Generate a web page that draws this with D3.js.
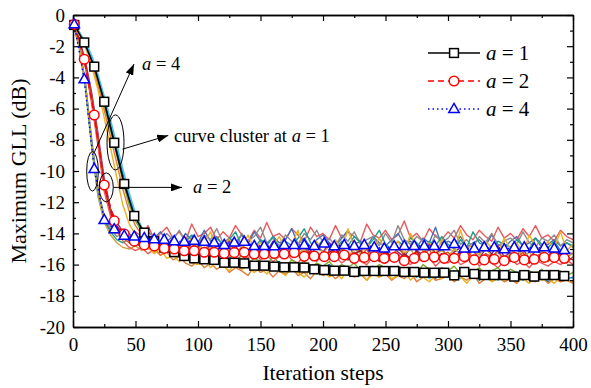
<!DOCTYPE html>
<html>
<head>
<meta charset="utf-8">
<script src="https://cdn.jsdelivr.net/npm/d3@7"></script>
<style>
  body { margin: 0; background: #fff; }
  svg { display: block; }
  svg text { font-family: "Liberation Serif", "Times New Roman", Times, serif; }
</style>
</head>
<body>
<script>
// Data
const steps = d3.range(0, 401, 5);
const markerSteps = d3.range(1, 400, 8);

const meanA1 = [-0.64, -1.76, -3.31, -5.56, -8.19, -10.83, -12.88, -13.95, -14.5, -14.9,
  -15.2, -15.45, -15.6, -15.66, -15.7, -15.88, -15.88, -15.92, -16.07, -16.07,
  -16.13, -16.17, -16.17, -16.19, -16.3, -16.35, -16.39, -16.39, -16.47, -16.41,
  -16.41, -16.41, -16.41, -16.47, -16.47, -16.52, -16.52, -16.52, -16.69, -16.47,
  -16.6, -16.67, -16.67, -16.67, -16.77, -16.67, -16.77, -16.67, -16.67, -16.73];
const meanA2 = [-0.6, -2.84, -6.41, -10.9, -13.2, -14.04, -14.5, -14.74, -14.8, -14.96,
  -15.0, -15.11, -15.11, -15.21, -15.21, -15.28, -15.23, -15.21, -15.32, -15.32,
  -15.28, -15.32, -15.23, -15.47, -15.45, -15.49, -15.49, -15.38, -15.6, -15.54,
  -15.49, -15.6, -15.54, -15.75, -15.6, -15.49, -15.52, -15.6, -15.6, -15.49,
  -15.7, -15.7, -15.66, -15.75, -15.54, -15.7, -15.66, -15.54, -15.54, -15.6];
const meanA4 = [-0.6, -4.12, -9.87, -13.14, -13.74, -14.15, -14.2, -14.3, -14.37, -14.4,
  -14.5, -14.53, -14.47, -14.53, -14.59, -14.74, -14.59, -14.53, -14.81, -14.81,
  -14.83, -14.74, -14.74, -14.74, -14.81, -14.64, -14.83, -14.74, -14.81, -14.74,
  -14.89, -14.96, -14.83, -14.81, -14.81, -14.81, -14.81, -14.83, -14.68, -14.96,
  -14.96, -14.89, -14.89, -15.02, -14.89, -14.89, -14.96, -14.89, -14.96, -15.06];

// single runs (cluster), one value every 5 steps
const runA1a = [-0.5,-1.1,-1.8,-2.8,-4.0,-5.4,-7.0,-8.6,-10.2,-11.7,
  -12.9,-13.8,-14.3,-14.5,-15.0,-14.9,-15.4,-15.2,-15.6,-15.3,
  -15.7,-15.5,-15.9,-15.6,-15.8,-16.1,-15.7,-16.0,-15.8,-16.2,
  -15.9,-16.3,-16.0,-15.8,-16.2,-16.4,-16.0,-16.3,-16.1,-16.5,
  -16.2,-16.0,-16.4,-16.6,-16.2,-16.3,-16.7,-16.4,-16.1,-16.5,
  -16.3,-16.7,-16.5,-16.2,-16.6,-16.8,-16.4,-16.5,-16.9,-16.3,
  -16.6,-16.4,-16.8,-16.5,-16.7,-17.0,-16.5,-16.6,-16.9,-16.7,
  -16.5,-16.8,-17.0,-16.6,-16.9,-16.7,-17.1,-16.8,-16.6,-16.9,
  -16.8];
const runA1b = [-0.5,-1.3,-2.1,-3.3,-4.8,-6.6,-8.5,-10.4,-12.2,-13.4,
  -14.1,-14.6,-14.9,-15.3,-15.0,-15.6,-15.4,-15.8,-15.5,-15.9,
  -16.0,-15.6,-16.2,-15.8,-16.1,-16.4,-15.9,-16.3,-16.1,-16.5,
  -16.2,-16.6,-16.1,-16.4,-16.7,-16.2,-16.5,-16.8,-16.3,-16.6,
  -16.4,-16.8,-16.5,-16.9,-16.3,-16.7,-16.5,-17.0,-16.6,-16.8,
  -16.5,-16.9,-16.7,-16.4,-17.0,-16.6,-16.8,-17.1,-16.7,-16.9,
  -16.6,-17.0,-16.8,-17.2,-16.7,-16.9,-16.6,-17.1,-16.9,-17.0,
  -16.7,-17.1,-16.9,-17.2,-16.8,-17.0,-16.9,-17.2,-16.8,-17.0,
  -17.1];
const runA1c = [-0.5,-1.2,-1.9,-3.0,-4.3,-5.8,-7.4,-9.0,-10.7,-12.2,
  -13.2,-13.9,-14.4,-14.3,-14.8,-15.1,-14.9,-15.3,-15.1,-15.5,
  -15.2,-15.6,-15.4,-15.1,-15.7,-15.5,-15.8,-15.4,-15.9,-15.6,
  -15.8,-16.0,-15.5,-15.9,-16.1,-15.7,-16.0,-15.8,-16.2,-15.9,
  -16.1,-15.8,-16.3,-16.0,-16.2,-15.9,-16.4,-16.1,-16.3,-16.0,
  -16.2,-16.5,-16.1,-16.4,-16.2,-16.6,-16.0,-16.3,-16.5,-16.2,
  -16.4,-16.1,-16.6,-16.3,-16.5,-16.2,-16.7,-16.4,-16.2,-16.6,
  -16.3,-16.5,-16.8,-16.4,-16.6,-16.3,-16.7,-16.5,-16.4,-16.7,
  -16.5];
const runA1d = [-0.5,-1.1,-1.7,-2.6,-3.8,-5.2,-6.7,-8.3,-9.9,-11.4,
  -12.7,-13.6,-14.2,-14.7,-14.6,-15.2,-15.0,-15.5,-15.3,-15.7,
  -15.4,-15.8,-15.6,-16.0,-15.7,-15.5,-16.1,-15.8,-16.2,-15.9,
  -16.3,-15.8,-16.1,-16.4,-16.0,-16.2,-16.5,-16.1,-16.3,-16.6,
  -16.2,-16.5,-16.3,-16.1,-16.6,-16.4,-16.7,-16.2,-16.5,-16.8,
  -16.4,-16.6,-16.3,-16.8,-16.5,-16.7,-16.4,-16.9,-16.6,-16.5,
  -16.8,-16.6,-16.9,-16.4,-16.7,-16.9,-16.6,-16.8,-17.0,-16.7,
  -16.9,-16.6,-16.8,-17.0,-16.7,-16.9,-16.8,-16.6,-17.0,-16.8,
  -16.9];
const runA1e = [-0.5,-1.2,-2.0,-3.1,-4.5,-6.1,-7.8,-9.5,-11.2,-12.6,
  -13.5,-14.1,-14.6,-15.0,-15.4,-15.2,-15.7,-15.5,-15.9,-16.1,
  -15.7,-16.2,-15.9,-16.3,-16.0,-16.5,-16.2,-16.4,-16.7,-16.1,
  -16.5,-16.3,-16.8,-16.4,-16.6,-16.2,-16.7,-16.5,-16.9,-16.4,
  -16.7,-16.5,-16.9,-16.6,-16.3,-16.8,-16.6,-17.0,-16.5,-16.8,
  -16.6,-17.0,-16.7,-16.9,-16.5,-17.1,-16.8,-16.6,-17.0,-16.9,
  -16.7,-17.1,-16.8,-17.0,-16.6,-17.2,-16.9,-17.0,-16.8,-17.1,
  -16.9,-17.2,-16.7,-17.0,-17.1,-16.8,-17.2,-16.9,-17.1,-17.0,
  -17.2];
const runA2a = [-0.5,-1.6,-3.1,-5.2,-7.8,-10.7,-12.5,-13.6,-14.3,-14.6,
  -14.8,-14.5,-15.0,-14.7,-15.2,-14.8,-15.3,-14.9,-15.1,-14.6,
  -15.3,-15.0,-14.7,-15.4,-15.1,-14.8,-15.5,-15.0,-15.3,-14.7,
  -15.4,-15.1,-15.6,-14.9,-15.2,-15.5,-15.0,-14.6,-15.4,-15.2,
  -15.7,-15.1,-15.3,-14.8,-15.6,-15.2,-15.5,-15.0,-15.8,-15.3,
  -15.1,-15.6,-14.9,-15.4,-15.7,-15.2,-15.5,-15.0,-15.8,-15.4,
  -15.2,-15.7,-15.3,-15.0,-15.6,-15.9,-15.3,-15.5,-15.1,-15.8,
  -15.4,-15.6,-15.2,-15.9,-15.5,-15.3,-15.8,-15.4,-15.6,-15.9,
  -15.5];
const runA2b = [-0.5,-1.5,-3.0,-5.0,-7.6,-10.5,-12.4,-13.3,-13.9,-14.2,
  -14.4,-14.7,-14.3,-14.9,-14.6,-15.0,-14.5,-14.8,-15.1,-14.7,
  -14.9,-14.4,-15.2,-14.8,-15.0,-14.5,-15.3,-14.9,-14.6,-15.1,
  -14.8,-15.2,-14.5,-15.0,-15.3,-14.7,-15.1,-14.9,-15.4,-14.8,
  -15.2,-14.6,-15.3,-15.0,-14.7,-15.4,-15.1,-14.9,-15.5,-15.0,
  -15.3,-14.8,-15.2,-15.5,-14.9,-15.1,-15.4,-14.7,-15.3,-15.0,
  -15.5,-15.2,-14.9,-15.4,-15.1,-15.6,-15.0,-15.3,-14.8,-15.5,
  -15.2,-15.4,-15.0,-15.6,-15.1,-15.3,-15.5,-14.9,-15.4,-15.2,
  -15.3];
const runA2c = [-0.5,-1.7,-3.4,-5.7,-8.4,-11.3,-12.9,-13.8,-14.5,-14.9,
  -15.1,-14.9,-15.3,-15.0,-15.4,-15.1,-15.5,-15.2,-15.6,-15.3,
  -15.0,-15.6,-15.3,-15.7,-15.2,-15.5,-15.8,-15.4,-15.6,-15.1,
  -15.7,-15.4,-15.8,-15.5,-15.2,-15.7,-15.9,-15.4,-15.6,-15.8,
  -15.3,-15.7,-15.5,-15.9,-15.6,-15.4,-15.8,-16.0,-15.5,-15.7,
  -15.9,-15.6,-15.3,-15.8,-16.0,-15.6,-15.8,-15.5,-16.1,-15.7,
  -15.9,-15.6,-16.0,-15.8,-15.5,-16.1,-15.7,-15.9,-16.2,-15.8,
  -15.6,-16.0,-15.8,-16.2,-15.7,-15.9,-16.1,-15.8,-16.0,-15.7,
  -16.0];
const runA2d = [-0.5,-1.6,-3.2,-5.5,-8.1,-11.0,-12.7,-13.5,-14.1,-14.4,
  -14.6,-14.9,-14.7,-15.1,-14.8,-15.2,-14.9,-15.3,-14.8,-15.2,
  -15.4,-14.9,-15.1,-15.5,-15.0,-15.3,-14.8,-15.4,-15.2,-15.6,
  -15.1,-14.9,-15.5,-15.2,-15.6,-15.0,-15.4,-15.7,-15.1,-15.3,
  -15.6,-15.2,-15.0,-15.5,-15.7,-15.3,-15.1,-15.6,-15.4,-15.8,
  -15.2,-15.5,-15.7,-15.3,-15.6,-15.1,-15.8,-15.4,-15.6,-15.3,
  -15.7,-15.5,-15.2,-15.8,-15.4,-15.6,-15.9,-15.3,-15.7,-15.5,
  -15.8,-15.4,-15.6,-15.9,-15.5,-15.7,-15.4,-15.8,-15.6,-15.5,
  -15.7];
const runA2e = [-0.5,-1.6,-3.3,-5.6,-8.3,-11.2,-12.8,-13.7,-14.2,-14.6,
  -14.3,-14.9,-14.6,-14.2,-15.0,-14.7,-14.4,-15.1,-14.8,-14.3,
  -15.0,-14.6,-13.9,-15.1,-14.7,-14.4,-15.2,-14.9,-14.1,-15.0,
  -14.6,-15.3,-14.8,-14.2,-15.1,-14.7,-13.8,-15.2,-14.9,-14.5,
  -15.3,-14.8,-14.4,-15.1,-13.7,-14.9,-15.2,-14.6,-15.0,-14.3,
  -15.2,-14.8,-14.5,-15.3,-14.0,-14.9,-15.1,-14.6,-15.3,-14.4,
  -14.9,-15.2,-13.8,-15.0,-14.7,-15.3,-14.5,-14.9,-15.2,-14.3,
  -15.0,-14.6,-15.3,-14.1,-14.8,-15.2,-14.5,-14.9,-13.9,-15.1,
  -14.7];
const runA4a = [-0.5,-2.0,-4.5,-8.2,-11.3,-13.0,-13.7,-14.2,-14.0,-14.4,
  -14.1,-14.5,-13.9,-14.3,-14.6,-14.0,-14.4,-13.8,-14.5,-14.2,
  -14.7,-14.1,-14.4,-13.7,-14.6,-14.3,-14.8,-14.0,-14.5,-14.2,
  -13.6,-14.6,-14.3,-14.8,-14.1,-14.5,-14.7,-14.0,-14.4,-13.8,
  -14.6,-14.3,-14.8,-14.1,-14.5,-13.9,-14.7,-14.4,-14.2,-14.8,
  -14.0,-14.6,-13.5,-14.4,-14.7,-14.2,-14.5,-14.9,-14.1,-14.6,
  -14.3,-13.8,-14.7,-14.4,-14.9,-14.2,-14.6,-14.0,-14.8,-14.5,
  -14.3,-14.7,-13.9,-14.6,-14.9,-14.3,-14.5,-14.1,-14.8,-14.4,
  -14.6];
const runA4b = [-0.5,-2.1,-4.7,-8.5,-11.6,-13.2,-13.9,-14.4,-14.6,-14.3,
  -14.7,-14.4,-14.8,-14.2,-14.6,-14.9,-14.3,-14.7,-14.5,-14.1,
  -14.8,-14.5,-14.9,-14.3,-14.7,-14.4,-13.9,-14.8,-14.6,-15.0,
  -14.4,-14.7,-14.2,-14.9,-14.5,-14.8,-14.3,-13.7,-14.6,-14.9,
  -14.4,-14.7,-15.0,-14.5,-14.8,-14.2,-14.6,-14.9,-14.4,-13.8,
  -14.7,-15.0,-14.5,-14.8,-14.3,-14.6,-15.1,-14.5,-14.8,-14.2,
  -14.7,-15.0,-14.4,-14.9,-13.9,-14.6,-14.8,-15.1,-14.5,-14.7,
  -14.9,-14.4,-14.8,-15.0,-14.3,-14.7,-14.9,-14.5,-15.1,-14.6,
  -14.8];
const runA4c = [-0.5,-1.9,-4.4,-8.0,-11.2,-12.9,-13.5,-13.8,-14.2,-14.0,
  -14.4,-14.1,-14.6,-14.3,-13.9,-14.5,-14.2,-14.7,-14.0,-14.4,
  -14.6,-13.8,-14.5,-14.2,-14.8,-14.3,-14.6,-14.1,-14.7,-13.9,
  -14.5,-14.8,-14.2,-14.6,-14.4,-13.7,-14.7,-14.3,-14.9,-14.4,
  -14.1,-14.6,-14.8,-14.3,-13.8,-14.7,-14.5,-14.9,-14.2,-14.6,
  -14.8,-14.4,-14.0,-14.7,-14.5,-14.9,-14.3,-14.6,-13.6,-14.8,
  -14.5,-14.7,-14.2,-14.9,-14.6,-14.4,-14.8,-14.1,-14.7,-14.9,
  -14.5,-14.2,-14.8,-14.6,-14.3,-14.9,-14.7,-14.4,-14.8,-14.6,
  -14.9];
const runA4d = [-0.5,-2.0,-4.6,-8.4,-11.6,-13.3,-14.1,-14.6,-14.9,-15.0,
  -14.8,-15.1,-14.7,-15.2,-14.9,-14.6,-15.1,-14.8,-15.3,-14.9,
  -14.5,-15.2,-14.9,-15.3,-14.7,-15.0,-15.4,-14.8,-15.1,-14.6,
  -15.3,-15.0,-15.4,-14.9,-15.2,-14.7,-15.3,-15.0,-15.5,-14.9,
  -15.2,-15.4,-14.8,-15.1,-15.5,-15.0,-15.3,-14.7,-15.2,-15.4,
  -15.1,-15.5,-14.9,-15.3,-15.0,-15.6,-15.2,-14.8,-15.4,-15.1,
  -15.5,-15.0,-15.3,-15.6,-15.1,-15.4,-14.9,-15.5,-15.2,-15.6,
  -15.3,-15.0,-15.5,-15.2,-15.7,-15.1,-15.4,-15.6,-15.2,-15.5,
  -15.3];
const runA4e = [-0.5,-2.0,-4.5,-8.3,-11.4,-13.1,-13.8,-14.0,-13.7,-14.3,
  -13.9,-14.2,-13.5,-14.4,-14.0,-13.6,-14.3,-13.9,-14.5,-13.4,
  -14.2,-14.0,-13.6,-14.4,-13.9,-14.3,-13.5,-14.1,-14.5,-13.8,
  -14.3,-13.3,-14.2,-14.0,-14.4,-13.7,-14.1,-14.5,-13.6,-14.2,
  -14.0,-14.4,-13.5,-14.3,-13.9,-14.2,-14.5,-13.4,-14.1,-14.3,
  -13.8,-14.4,-14.1,-13.2,-14.3,-14.0,-14.5,-13.7,-14.2,-14.4,
  -13.9,-14.3,-13.5,-14.1,-14.4,-13.8,-14.2,-14.5,-13.6,-14.3,
  -14.0,-14.4,-13.7,-14.2,-13.5,-14.3,-14.1,-14.5,-13.8,-14.2,
  -14.4];

const runs = [runA4e, runA4c, runA4a, runA4b, runA2e, runA2b, runA4d, runA2a, runA2d, runA2c,
  runA1c, runA1a, runA1d, runA1e, runA1b];
const runColors = ['#e9595c', '#4a6fb5', '#8c8c8c', '#1f9e89', '#edb120', '#7e2f8e', '#c9a63b',
  '#d95319', '#a2142f', '#ec5a5f', '#77ac30', '#0072bd', '#4dbeee', '#e07b39', '#edb120'];

const xTicks = d3.range(0, 401, 50);
const yTicks = d3.range(-20, 1, 2);
const legendLabels = ['1', '2', '4'];

// Layout
const width = 591;
const height = 388;
const margin = { top: 15, right: 18, bottom: 61, left: 73 };
const serif = '"Liberation Serif", "Times New Roman", Times, serif';

const svg = d3.select('body')
  .append('svg')
  .attr('width', width)
  .attr('height', height)
  .attr('font-family', serif);

const x = d3.scaleLinear().domain([0, 400]).range([margin.left, width - margin.right]);
const y = d3.scaleLinear().domain([-20, 0]).range([height - margin.bottom, margin.top]);

svg.append('clipPath').attr('id', 'plot')
  .append('rect')
  .attr('x', margin.left).attr('y', margin.top)
  .attr('width', x(400) - x(0)).attr('height', y(-20) - y(0));

// Arrow head
svg.append('defs').append('marker')
  .attr('id', 'arrow')
  .attr('markerUnits', 'userSpaceOnUse')
  .attr('markerWidth', 11).attr('markerHeight', 8)
  .attr('refX', 11).attr('refY', 4)
  .attr('orient', 'auto')
  .append('path')
  .attr('d', 'M0,0L11,4L0,8Z')
  .attr('fill', '#000');

// Cluster of single runs
const runLine = d3.line()
  .x((d, i) => x(steps[i]))
  .y(d => y(d));

svg.append('g')
  .attr('clip-path', 'url(#plot)')
  .selectAll('path')
  .data(runs)
  .join('path')
  .attr('d', runLine)
  .attr('fill', 'none')
  .attr('stroke', (d, i) => runColors[i])
  .attr('stroke-width', 1.4)
  .attr('stroke-linejoin', 'round');

// Axes (ticks inward on all four sides)
function frameAxis(axis, transform, labels) {
  const g = svg.append('g')
    .attr('transform', transform)
    .call(axis)
    .attr('font-family', serif)
    .attr('font-size', 19);
  g.select('.domain').attr('stroke', '#000').attr('stroke-width', 1.3);
  g.selectAll('.tick line').attr('stroke', '#000').attr('stroke-width', 1.2);
  if (labels) { g.selectAll('text').attr('fill', '#000'); } else { g.selectAll('text').remove(); }
  return g;
}

const minorX = d3.range(25, 400, 50);
const minorY = d3.range(-19, 0, 2);

frameAxis(d3.axisBottom(x).tickValues(xTicks).tickSize(-6).tickPadding(11).tickSizeOuter(0),
  `translate(0,${y(-20)})`, true);
frameAxis(d3.axisBottom(x).tickValues(minorX).tickSize(-3).tickSizeOuter(0),
  `translate(0,${y(-20)})`, false);
frameAxis(d3.axisTop(x).tickValues(xTicks).tickSize(-6).tickSizeOuter(0),
  `translate(0,${y(0)})`, false);
frameAxis(d3.axisTop(x).tickValues(minorX).tickSize(-3).tickSizeOuter(0),
  `translate(0,${y(0)})`, false);
frameAxis(d3.axisLeft(y).tickValues(yTicks).tickSize(-6).tickPadding(8).tickSizeOuter(0)
  .tickFormat(d => String(d)), `translate(${x(0)},0)`, true);
frameAxis(d3.axisLeft(y).tickValues(minorY).tickSize(-3).tickSizeOuter(0),
  `translate(${x(0)},0)`, false);
frameAxis(d3.axisRight(y).tickValues(yTicks).tickSize(-6).tickSizeOuter(0),
  `translate(${x(400)},0)`, false);
frameAxis(d3.axisRight(y).tickValues(minorY).tickSize(-3).tickSizeOuter(0),
  `translate(${x(400)},0)`, false);

// Axis titles
svg.append('text')
  .attr('x', (x(0) + x(400)) / 2)
  .attr('y', 380)
  .attr('text-anchor', 'middle')
  .attr('font-size', 21.5)
  .text('Iteration steps');

svg.append('text')
  .attr('transform', `translate(26,${(y(0) + y(-20)) / 2}) rotate(-90)`)
  .attr('text-anchor', 'middle')
  .attr('font-size', 22)
  .text('Maximum GLL (dB)');

// Mean curves with markers
const series = [
  { values: meanA1, color: '#000', dash: null, shape: 'square' },
  { values: meanA2, color: '#ff0000', dash: '6,4', shape: 'circle' },
  { values: meanA4, color: '#0000ff', dash: '1.5,3', shape: 'triangle' }
];

const meanLine = d3.line()
  .x((d, i) => x(markerSteps[i]))
  .y(d => y(d));

function drawMarker(sel, shape, color) {
  if (shape === 'square') {
    sel.append('rect').attr('x', -4.4).attr('y', -4.4).attr('width', 8.8).attr('height', 8.8);
  } else if (shape === 'circle') {
    sel.append('circle').attr('r', 4.8);
  } else {
    sel.append('path').attr('d', 'M0,-5.6L5.2,3.5L-5.2,3.5Z');
  }
  sel.selectAll('rect,circle,path')
    .attr('fill', '#fff')
    .attr('stroke', color)
    .attr('stroke-width', 1.5);
}

series.forEach(s => {
  svg.append('path')
    .datum(s.values)
    .attr('d', meanLine)
    .attr('fill', 'none')
    .attr('stroke', s.color)
    .attr('stroke-width', 1.5)
    .attr('stroke-dasharray', s.dash);
});

series.forEach(s => {
  svg.append('g')
    .selectAll('g')
    .data(s.values)
    .join('g')
    .attr('transform', (d, i) => `translate(${x(markerSteps[i])},${y(d)})`)
    .each(function () { drawMarker(d3.select(this), s.shape, s.color); });
});

// Legend
const legend = svg.append('g');
series.forEach((s, i) => {
  const ly = 53 + i * 28;
  legend.append('line')
    .attr('x1', 428).attr('x2', 480)
    .attr('y1', ly).attr('y2', ly)
    .attr('stroke', s.color)
    .attr('stroke-width', 1.5)
    .attr('stroke-dasharray', s.dash);
  const m = legend.append('g').attr('transform', `translate(454,${ly})`);
  drawMarker(m, s.shape, s.color);
  const t = legend.append('text')
    .attr('x', 486).attr('y', ly + 7)
    .attr('font-size', 21);
  t.append('tspan').attr('font-style', 'italic').text('a');
  t.append('tspan').text(' = ' + legendLabels[i]);
});

// Annotations
const notes = svg.append('g');
function ellipse(cx, cy, rx, ry) {
  notes.append('ellipse')
    .attr('cx', x(cx)).attr('cy', y(cy))
    .attr('rx', rx).attr('ry', ry)
    .attr('fill', 'none')
    .attr('stroke', '#000')
    .attr('stroke-width', 1);
}
function arrow(x1, y1, x2, y2) {
  notes.append('line')
    .attr('x1', x(x1)).attr('y1', y(y1))
    .attr('x2', x(x2)).attr('y2', y(y2))
    .attr('stroke', '#000')
    .attr('stroke-width', 1)
    .attr('marker-end', 'url(#arrow)');
}
function label(lx, ly, before, after) {
  const t = notes.append('text')
    .attr('x', x(lx)).attr('y', y(ly))
    .attr('font-size', 18.5);
  if (before) t.append('tspan').text(before);
  t.append('tspan').attr('font-style', 'italic').text('a');
  t.append('tspan').text(after);
}

ellipse(34, -8.17, 8.5, 27.5);
ellipse(15.6, -10.02, 5.8, 19.8);
ellipse(26.6, -11.05, 7, 14.5);

arrow(16.8, -8.85, 48.8, -3.14);
arrow(39.6, -8.6, 76.2, -7.72);
arrow(32.2, -11.05, 87.2, -11.05);

label(55.2, -3.53, '', ' = 4');
label(80.8, -8.14, 'curve cluster at ', ' = 1');
label(96, -11.4, '', ' = 2');
</script>
</body>
</html>
